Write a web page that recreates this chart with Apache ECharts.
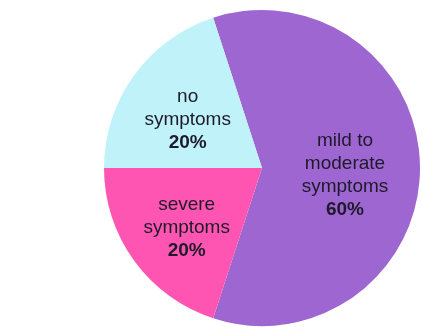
<!DOCTYPE html>
<html>
<head>
<meta charset="utf-8">
<script src="https://cdn.jsdelivr.net/npm/echarts@6/dist/echarts.min.js"></script>
<style>
html,body{margin:0;padding:0;background:#fff;}
#chart{width:422px;height:327px;}
</style>
</head>
<body>
<div id="chart"></div>
<script>
var categories = ['mild to\nmoderate\nsymptoms', 'severe\nsymptoms', 'no\nsymptoms'];
var values = [60, 20, 20];
var colors = ['#9e66d0', '#ff55b2', '#c0f2fa'];

var chart = echarts.init(document.getElementById('chart'), null, {renderer: 'canvas'});
var data = categories.map(function (c, i) {
  return {name: c, value: values[i], itemStyle: {color: colors[i]}};
});
var labelShift = [[1, 7], [-9, 12], [-8, 0]];
chart.setOption({
  animation: false,
  backgroundColor: '#ffffff',
  series: [{
    type: 'pie',
    center: [262, 168],
    radius: 158,
    startAngle: 108,
    clockwise: true,
    data: data,
    itemStyle: {borderWidth: 0},
    emphasis: {disabled: true},
    label: {
      position: 'inside',
      formatter: function (p) {
        var lines = p.name.split('\n').map(function (l) { return '{n|' + l + '}'; });
        return lines.join('\n') + '\n{b|' + p.value + '%}';
      },
      rich: {
        n: {fontFamily: 'Liberation Sans, Arial, sans-serif', fontSize: 19, lineHeight: 23, color: '#1e1a2a', align: 'center'},
        b: {fontFamily: 'Liberation Sans, Arial, sans-serif', fontSize: 19, lineHeight: 23, fontWeight: 'bold', color: '#1e1a2a', align: 'center'}
      }
    },
    labelLine: {show: false},
    labelLayout: function (p) {
      var s = labelShift[p.dataIndex];
      return {dx: s[0], dy: s[1]};
    }
  }]
});
</script>
</body>
</html>
